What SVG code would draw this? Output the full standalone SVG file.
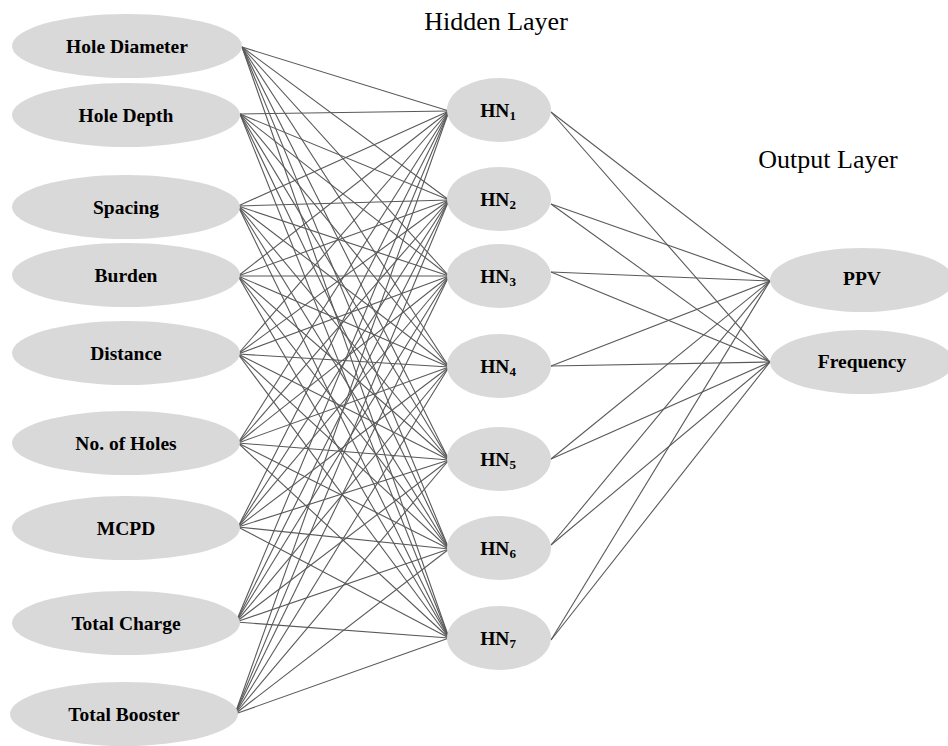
<svg xmlns="http://www.w3.org/2000/svg" width="948" height="746" viewBox="0 0 948 746">
<style>
.n{fill:#d9d9d9;stroke:none}
.t{font-family:"Liberation Serif",serif;font-weight:bold;font-size:19.5px;fill:#000;text-anchor:middle;dominant-baseline:central}
.h{font-family:"Liberation Serif",serif;font-size:26px;fill:#000;text-anchor:middle}
.c line{stroke:#595959;stroke-width:1.1}
</style>
<rect width="948" height="746" fill="#fff"/>
<text class="h" x="496" y="30">Hidden Layer</text>
<text class="h" x="828" y="168">Output Layer</text>
<g class="c" id="connectors">
<g id="in2hid">
<line x1="242" y1="47" x2="449" y2="111"/><line x1="242" y1="47" x2="449" y2="200"/><line x1="242" y1="47" x2="449" y2="276"/><line x1="242" y1="47" x2="449" y2="367"/><line x1="242" y1="47" x2="449" y2="460"/><line x1="242" y1="47" x2="449" y2="549"/><line x1="242" y1="47" x2="449" y2="638"/>
<line x1="240" y1="114" x2="449" y2="111"/><line x1="240" y1="114" x2="449" y2="200"/><line x1="240" y1="114" x2="449" y2="276"/><line x1="240" y1="114" x2="449" y2="367"/><line x1="240" y1="114" x2="449" y2="460"/><line x1="240" y1="114" x2="449" y2="549"/><line x1="240" y1="114" x2="449" y2="638"/>
<line x1="238" y1="206" x2="449" y2="111"/><line x1="238" y1="206" x2="449" y2="200"/><line x1="238" y1="206" x2="449" y2="276"/><line x1="238" y1="206" x2="449" y2="367"/><line x1="238" y1="206" x2="449" y2="460"/><line x1="238" y1="206" x2="449" y2="549"/><line x1="238" y1="206" x2="449" y2="638"/>
<line x1="238" y1="276" x2="449" y2="111"/><line x1="238" y1="276" x2="449" y2="200"/><line x1="238" y1="276" x2="449" y2="276"/><line x1="238" y1="276" x2="449" y2="367"/><line x1="238" y1="276" x2="449" y2="460"/><line x1="238" y1="276" x2="449" y2="549"/><line x1="238" y1="276" x2="449" y2="638"/>
<line x1="238" y1="354" x2="449" y2="111"/><line x1="238" y1="354" x2="449" y2="200"/><line x1="238" y1="354" x2="449" y2="276"/><line x1="238" y1="354" x2="449" y2="367"/><line x1="238" y1="354" x2="449" y2="460"/><line x1="238" y1="354" x2="449" y2="549"/><line x1="238" y1="354" x2="449" y2="638"/>
<line x1="238" y1="443" x2="449" y2="111"/><line x1="238" y1="443" x2="449" y2="200"/><line x1="238" y1="443" x2="449" y2="276"/><line x1="238" y1="443" x2="449" y2="367"/><line x1="238" y1="443" x2="449" y2="460"/><line x1="238" y1="443" x2="449" y2="549"/><line x1="238" y1="443" x2="449" y2="638"/>
<line x1="238" y1="527" x2="449" y2="111"/><line x1="238" y1="527" x2="449" y2="200"/><line x1="238" y1="527" x2="449" y2="276"/><line x1="238" y1="527" x2="449" y2="367"/><line x1="238" y1="527" x2="449" y2="460"/><line x1="238" y1="527" x2="449" y2="549"/><line x1="238" y1="527" x2="449" y2="638"/>
<line x1="236" y1="622" x2="449" y2="111"/><line x1="236" y1="622" x2="449" y2="200"/><line x1="236" y1="622" x2="449" y2="276"/><line x1="236" y1="622" x2="449" y2="367"/><line x1="236" y1="622" x2="449" y2="460"/><line x1="236" y1="622" x2="449" y2="549"/><line x1="236" y1="622" x2="449" y2="638"/>
<line x1="235" y1="714" x2="449" y2="111"/><line x1="235" y1="714" x2="449" y2="200"/><line x1="235" y1="714" x2="449" y2="276"/><line x1="235" y1="714" x2="449" y2="367"/><line x1="235" y1="714" x2="449" y2="460"/><line x1="235" y1="714" x2="449" y2="549"/><line x1="235" y1="714" x2="449" y2="638"/>
</g>
<g id="hid2out">
<line x1="551" y1="112" x2="770" y2="281"/><line x1="551" y1="112" x2="770" y2="362"/>
<line x1="551" y1="204" x2="770" y2="281"/><line x1="551" y1="204" x2="770" y2="362"/>
<line x1="551" y1="272" x2="770" y2="281"/><line x1="551" y1="272" x2="770" y2="362"/>
<line x1="551" y1="366" x2="770" y2="281"/><line x1="551" y1="366" x2="770" y2="362"/>
<line x1="551" y1="459" x2="770" y2="281"/><line x1="551" y1="459" x2="770" y2="362"/>
<line x1="551" y1="545" x2="770" y2="281"/><line x1="551" y1="545" x2="770" y2="362"/>
<line x1="551" y1="640" x2="770" y2="281"/><line x1="551" y1="640" x2="770" y2="362"/>
</g>
</g>
<g id="in1"><ellipse class="n" cx="127" cy="46" rx="115" ry="32"/><text class="t" x="127" y="46">Hole Diameter</text></g>
<g id="in2"><ellipse class="n" cx="126" cy="115" rx="114" ry="32"/><text class="t" x="126" y="115">Hole Depth</text></g>
<g id="in3"><ellipse class="n" cx="126" cy="207" rx="114" ry="32"/><text class="t" x="126" y="207">Spacing</text></g>
<g id="in4"><ellipse class="n" cx="126" cy="275" rx="114" ry="32"/><text class="t" x="126" y="275">Burden</text></g>
<g id="in5"><ellipse class="n" cx="126" cy="353" rx="114" ry="32"/><text class="t" x="126" y="353">Distance</text></g>
<g id="in6"><ellipse class="n" cx="126" cy="443" rx="114" ry="32"/><text class="t" x="126" y="443">No. of Holes</text></g>
<g id="in7"><ellipse class="n" cx="126" cy="528" rx="114" ry="32"/><text class="t" x="126" y="528">MCPD</text></g>
<g id="in8"><ellipse class="n" cx="126" cy="623" rx="114" ry="32"/><text class="t" x="126" y="623">Total Charge</text></g>
<g id="in9"><ellipse class="n" cx="124" cy="714" rx="114" ry="32"/><text class="t" x="124" y="714">Total Booster</text></g>
<g id="hn1"><ellipse class="n" cx="499" cy="110" rx="52" ry="32"/><text class="t" x="498" y="110">HN<tspan font-size="13" dy="5">1</tspan></text></g>
<g id="hn2"><ellipse class="n" cx="499" cy="199" rx="52" ry="32"/><text class="t" x="498" y="199">HN<tspan font-size="13" dy="5">2</tspan></text></g>
<g id="hn3"><ellipse class="n" cx="499" cy="276" rx="52" ry="32"/><text class="t" x="498" y="276">HN<tspan font-size="13" dy="5">3</tspan></text></g>
<g id="hn4"><ellipse class="n" cx="499" cy="366" rx="52" ry="32"/><text class="t" x="498" y="366">HN<tspan font-size="13" dy="5">4</tspan></text></g>
<g id="hn5"><ellipse class="n" cx="499" cy="459" rx="52" ry="32"/><text class="t" x="498" y="459">HN<tspan font-size="13" dy="5">5</tspan></text></g>
<g id="hn6"><ellipse class="n" cx="499" cy="548" rx="52" ry="32"/><text class="t" x="498" y="548">HN<tspan font-size="13" dy="5">6</tspan></text></g>
<g id="hn7"><ellipse class="n" cx="499" cy="638" rx="52" ry="32"/><text class="t" x="498" y="638">HN<tspan font-size="13" dy="5">7</tspan></text></g>
<g id="ppv"><ellipse class="n" cx="862" cy="280" rx="92" ry="32"/><text class="t" x="862" y="278">PPV</text></g>
<g id="freq"><ellipse class="n" cx="862" cy="362" rx="92" ry="32"/><text class="t" x="862" y="361">Frequency</text></g>
</svg>
